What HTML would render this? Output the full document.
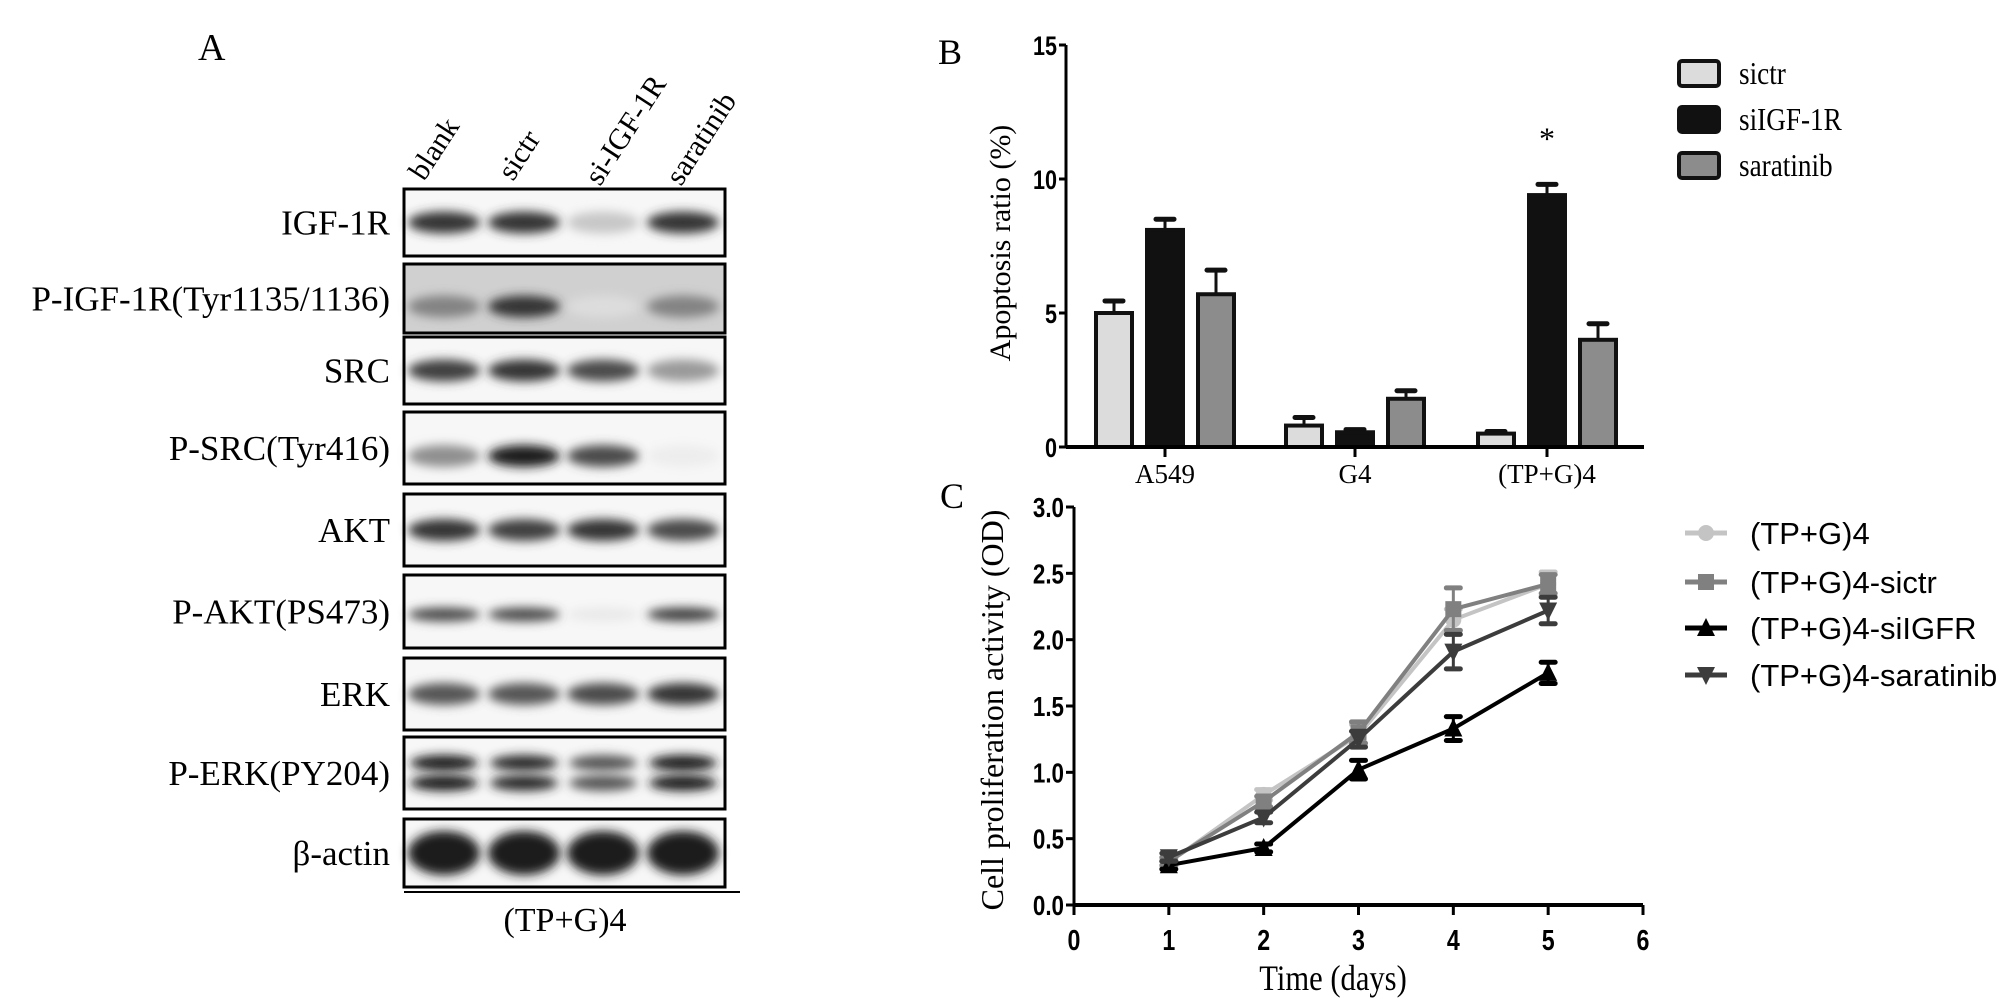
<!DOCTYPE html>
<html><head><meta charset="utf-8">
<style>
html,body{margin:0;padding:0;background:#fff;}
svg{display:block;}
.serif{font-family:"Liberation Serif",serif;}
.sans{font-family:"Liberation Sans",sans-serif;}
</style></head>
<body>
<svg id="fig" width="2007" height="1005" viewBox="0 0 2007 1005" xmlns="http://www.w3.org/2000/svg">
<defs>
<filter id="blur" x="-30%" y="-80%" width="160%" height="260%"><feGaussianBlur stdDeviation="5"/></filter>
</defs>
<g id="panelA"></g>
<g id="panelB"></g>
<g id="panelC"></g>
</svg>
<script>
// ---------- Panel A data ----------
const blotRows = ["IGF-1R","P-IGF-1R(Tyr1135/1136)","SRC","P-SRC(Tyr416)","AKT","P-AKT(PS473)","ERK","P-ERK(PY204)","β-actin"];
const blotLanes = ["blank","sictr","si-IGF-1R","saratinib"];
const blotIntensity = [
 [0.9,0.9,0.25,0.9],
 [0.55,0.9,0.15,0.55],
 [0.85,0.9,0.8,0.45],
 [0.5,1.0,0.8,0.08],
 [0.9,0.85,0.9,0.8],
 [0.8,0.8,0.1,0.85],
 [0.75,0.75,0.8,0.9],
 [1.0,0.95,0.75,1.0],
 [1,1,1,1]
];
// ---------- Panel B data ----------
const bCategories = ["A549","G4","(TP+G)4"];
const bSeries = ["sictr","siIGF-1R","saratinib"];
const bSictr = [5.0,0.8,0.5];
const bSiIGF = [8.1,0.55,9.4];
const bSaratinib = [5.7,1.8,4.0];
const bSictrErr = [0.45,0.3,0.08];
const bSiIGFErr = [0.4,0.1,0.4];
const bSaratinibErr = [0.9,0.3,0.6];
const bTicks = [0,5,10,15];
// ---------- Panel C data ----------
const cDays = [1,2,3,4,5];
const cSeriesNames = ["(TP+G)4","(TP+G)4-sictr","(TP+G)4-siIGFR","(TP+G)4-saratinib"];
const cTPG = [0.32,0.83,1.28,2.15,2.42];
const cSictr = [0.33,0.78,1.30,2.23,2.42];
const cSiIGFR = [0.30,0.43,1.02,1.33,1.75];
const cSaratinib = [0.36,0.66,1.25,1.91,2.22];
const cTPGErr = [0.03,0.04,0.08,0.08,0.09];
const cSictrErr = [0.03,0.04,0.08,0.16,0.07];
const cSiIGFRErr = [0.03,0.03,0.07,0.09,0.08];
const cSaratinibErr = [0.03,0.04,0.06,0.13,0.1];
const cYTicks = ["0.0","0.5","1.0","1.5","2.0","2.5","3.0"];
const cXTicks = [0,1,2,3,4,5,6];

const NS="http://www.w3.org/2000/svg";
function mk(tag,attrs,parent,text){const e=document.createElementNS(NS,tag);for(const k in attrs)e.setAttribute(k,attrs[k]);if(text!==undefined)e.textContent=text;parent.appendChild(e);return e;}

// ---------- Panel A ----------
(function(){
 const g=document.getElementById('panelA');
 let t=mk('text',{x:198,y:60,'font-size':38,class:'serif'},g,'A');
 
 
 const boxTop=[189,264,337,412,494,575,658,737,819];
 const boxBot=[256,333,404,484,566,648,730,809,887];
 const laneX=[444,524,603,683];
 const x0=404,x1=725;
 blotLanes.forEach((ln,i)=>{
  const sx=[424,513,600,681][i], sy=[182,182,187,187][i];
  const l=mk('text',{x:sx,y:sy,'font-size':30,class:'serif',transform:`rotate(-57 ${sx} ${sy})`},g,ln);
  
  
 });
 blotRows.forEach((r,ri)=>{
  const y0=boxTop[ri],y1=boxBot[ri],cy=(y0+y1)/2;
  const lab=mk('text',{x:390,y:cy+12,'font-size':35,'text-anchor':'end',class:'serif'},g,r);
  
  
  const bg=mk('rect',{x:x0,y:y0,width:x1-x0,height:y1-y0,fill:ri==1?'#d0d0d0':'#f7f7f7'},g);
  
  
  blotIntensity[ri].forEach((v,li)=>{
   const c=Math.round(255-v*225);
   const col=`rgb(${c},${c},${c})`;
   if(ri==7){
    [cy-10,cy+10].forEach(yy=>{const b=mk('ellipse',{cx:laneX[li],cy:yy,rx:34,ry:8,fill:col,filter:'url(#blur)'},g);
     });
   }else{
    const ry=ri==8?22:(ri==5?7:11);
    const b=mk('ellipse',{cx:laneX[li],cy:cy+(ri==1||ri==3?8:(ri==5?3:0)),rx:36,ry:ry,fill:col,filter:'url(#blur)'},g);
    
    
   }
  });
  const fr=mk('rect',{x:x0,y:y0,width:x1-x0,height:y1-y0,fill:'none',stroke:'#000','stroke-width':3},g);
  
  
 });
 const ln=mk('line',{x1:404,y1:892,x2:740,y2:892,stroke:'#000','stroke-width':2},g);
 
 
 const gl=mk('text',{x:565,y:931,'font-size':34,'text-anchor':'middle',class:'serif'},g,'(TP+G)4');
 
 
})();

// ---------- Panel B ----------
(function(){
 const g=document.getElementById('panelB');
 const ax=1066, y0=447, perUnit=(447-45)/15;
 const Y=v=>y0-v*perUnit;
 const groupX=[1165,1355,1547];
 const X=(ci,si)=>groupX[ci]+(si-1)*51;
 let t=mk('text',{x:938,y:64,'font-size':36,class:'serif'},g,'B');
 
 
 const vals=[bSictr,bSiIGF,bSaratinib], errs=[bSictrErr,bSiIGFErr,bSaratinibErr];
 const fills=['#dcdcdc','#111','#8c8c8c'];
 bCategories.forEach((c,ci)=>{
  vals.forEach((arr,si)=>{
   const v=arr[ci], e=errs[si][ci], cx=X(ci,si);
   const el=mk('line',{x1:cx,y1:Y(v),x2:cx,y2:Y(v+e),stroke:'#111','stroke-width':3},g);
   
   
   const cap=mk('line',{x1:cx-9,y1:Y(v+e),x2:cx+9,y2:Y(v+e),stroke:'#111','stroke-width':5,'stroke-linecap':'round'},g);
   
   
   const r=mk('rect',{x:cx-18,y:Y(v),width:36,height:y0-Y(v),fill:fills[si],stroke:'#111','stroke-width':4},g);
   
   
  });
  const tk=mk('line',{x1:groupX[ci],y1:y0,x2:groupX[ci],y2:y0+10,stroke:'#000','stroke-width':3},g);
  
  
  const lb=mk('text',{x:groupX[ci],y:y0+36,'font-size':27,'text-anchor':'middle',class:'serif'},g,c);
  
  
 });
 const star=mk('text',{x:1547,y:Y(11.1),'font-size':32,'text-anchor':'middle',class:'serif'},g,'*');
 
 
 const xa=mk('line',{x1:ax,y1:y0,x2:1644,y2:y0,stroke:'#000','stroke-width':4},g);
 
 
 const ya=mk('line',{x1:ax,y1:Y(15),x2:ax,y2:y0,stroke:'#000','stroke-width':3},g);
 
 
 bTicks.forEach(v=>{
  const tk=mk('line',{x1:ax-7,y1:Y(v),x2:ax,y2:Y(v),stroke:'#000','stroke-width':3},g);
  
  
  const lb=mk('text',{x:0,y:0,'font-size':27,'font-weight':'bold','text-anchor':'end',class:'sans',transform:`translate(${ax-9},${Y(v)+10}) scale(0.8,1)`},g,String(v));
  
  
 });
 const yt=mk('text',{x:1010,y:243,'font-size':30,'text-anchor':'middle',class:'serif',transform:'rotate(-90 1010 243)'},g,'Apoptosis ratio (%)');
 
 
 const ly=[73,119,165];
 bSeries.forEach((s,si)=>{
  const r=mk('rect',{x:1679,y:ly[si]-12,width:40,height:25,fill:fills[si],stroke:'#111','stroke-width':4,rx:3},g);
  
  
  const tx=mk('text',{x:0,y:0,'font-size':32,class:'serif',transform:`translate(1739,${ly[si]+11}) scale(0.85,1)`},g,s);
  
  
 });
})();

// ---------- Panel C ----------
(function(){
 const g=document.getElementById('panelC');
 const ax=1074, y0=905, perY=(905-507)/3, perX=(1643-1074)/6;
 const X=v=>ax+v*perX, Y=v=>y0-v*perY;
 let t=mk('text',{x:940,y:508,'font-size':36,class:'serif'},g,'C');
 
 
 const xa=mk('line',{x1:ax,y1:y0,x2:X(6),y2:y0,stroke:'#000','stroke-width':4},g);
 
 
 const ya=mk('line',{x1:ax,y1:Y(3),x2:ax,y2:y0,stroke:'#000','stroke-width':3},g);
 
 
 cXTicks.forEach(v=>{
  const tk=mk('line',{x1:X(v),y1:y0,x2:X(v),y2:y0+10,stroke:'#000','stroke-width':3},g);
  
  
  const lb=mk('text',{x:0,y:0,'font-size':29,'font-weight':'bold','text-anchor':'middle',class:'sans',transform:`translate(${X(v)},${y0+45}) scale(0.8,1)`},g,String(v));
  
  
 });
 cYTicks.forEach(s=>{
  const v=parseFloat(s);
  const tk=mk('line',{x1:ax-8,y1:Y(v),x2:ax,y2:Y(v),stroke:'#000','stroke-width':3},g);
  
  
  const lb=mk('text',{x:0,y:0,'font-size':28,'font-weight':'bold','text-anchor':'end',class:'sans',transform:`translate(${ax-10},${Y(v)+10}) scale(0.8,1)`},g,s);
  
  
 });
 const xt=mk('text',{x:0,y:0,'font-size':36,'text-anchor':'middle',class:'serif',transform:'translate(1333,990) scale(0.85,1)'},g,'Time (days)');
 
 
 const yt=mk('text',{x:1003,y:710,'font-size':32,'text-anchor':'middle',class:'serif',transform:'rotate(-90 1003 710)'},g,'Cell proliferation activity (OD)');
 
 
 const series=[cTPG,cSictr,cSiIGFR,cSaratinib], errs=[cTPGErr,cSictrErr,cSiIGFRErr,cSaratinibErr];
 const cols=['#c4c4c4','#808080','#000','#3c3c3c'];
 const shapes=['circle','square','up','down'];
 function marker(shape,cx,cy,col,parent){
  let m;
  if(shape=='circle') m=mk('circle',{cx:cx,cy:cy,r:8,fill:col},parent);
  else if(shape=='square') m=mk('rect',{x:cx-8,y:cy-8,width:16,height:16,fill:col},parent);
  else if(shape=='up') m=mk('polygon',{points:`${cx},${cy-10} ${cx-9},${cy+8} ${cx+9},${cy+8}`,fill:col},parent);
  else m=mk('polygon',{points:`${cx},${cy+10} ${cx-9},${cy-8} ${cx+9},${cy-8}`,fill:col},parent);
  return m;
 }
 series.forEach((arr,si)=>{
  const pts=cDays.map((d,i)=>X(d)+','+Y(arr[i])).join(' ');
  const pl=mk('polyline',{points:pts,fill:'none',stroke:cols[si],'stroke-width':4},g);
  
  
  cDays.forEach((d,i)=>{
   const e=errs[si][i];
   const eb=mk('line',{x1:X(d),y1:Y(arr[i]-e),x2:X(d),y2:Y(arr[i]+e),stroke:cols[si],'stroke-width':3},g);
   
   
   [arr[i]-e,arr[i]+e].forEach(yy=>{
    const cp=mk('line',{x1:X(d)-7,y1:Y(yy),x2:X(d)+7,y2:Y(yy),stroke:cols[si],'stroke-width':5,'stroke-linecap':'round'},g);
    
    
   });
   const m=marker(shapes[si],X(d),Y(arr[i]),cols[si],g);
   
   
  });
 });
 const ly=[533,582,628,675];
 cSeriesNames.forEach((s,si)=>{
  const l=mk('line',{x1:1685,y1:ly[si],x2:1727,y2:ly[si],stroke:cols[si],'stroke-width':5},g);
  
  
  const m=marker(shapes[si],1706,ly[si],cols[si],g);
  
  
  const tx=mk('text',{x:1750,y:ly[si]+11,'font-size':31,class:'sans'},g,s);
  
  
 });
})();
</script>
</body></html>
